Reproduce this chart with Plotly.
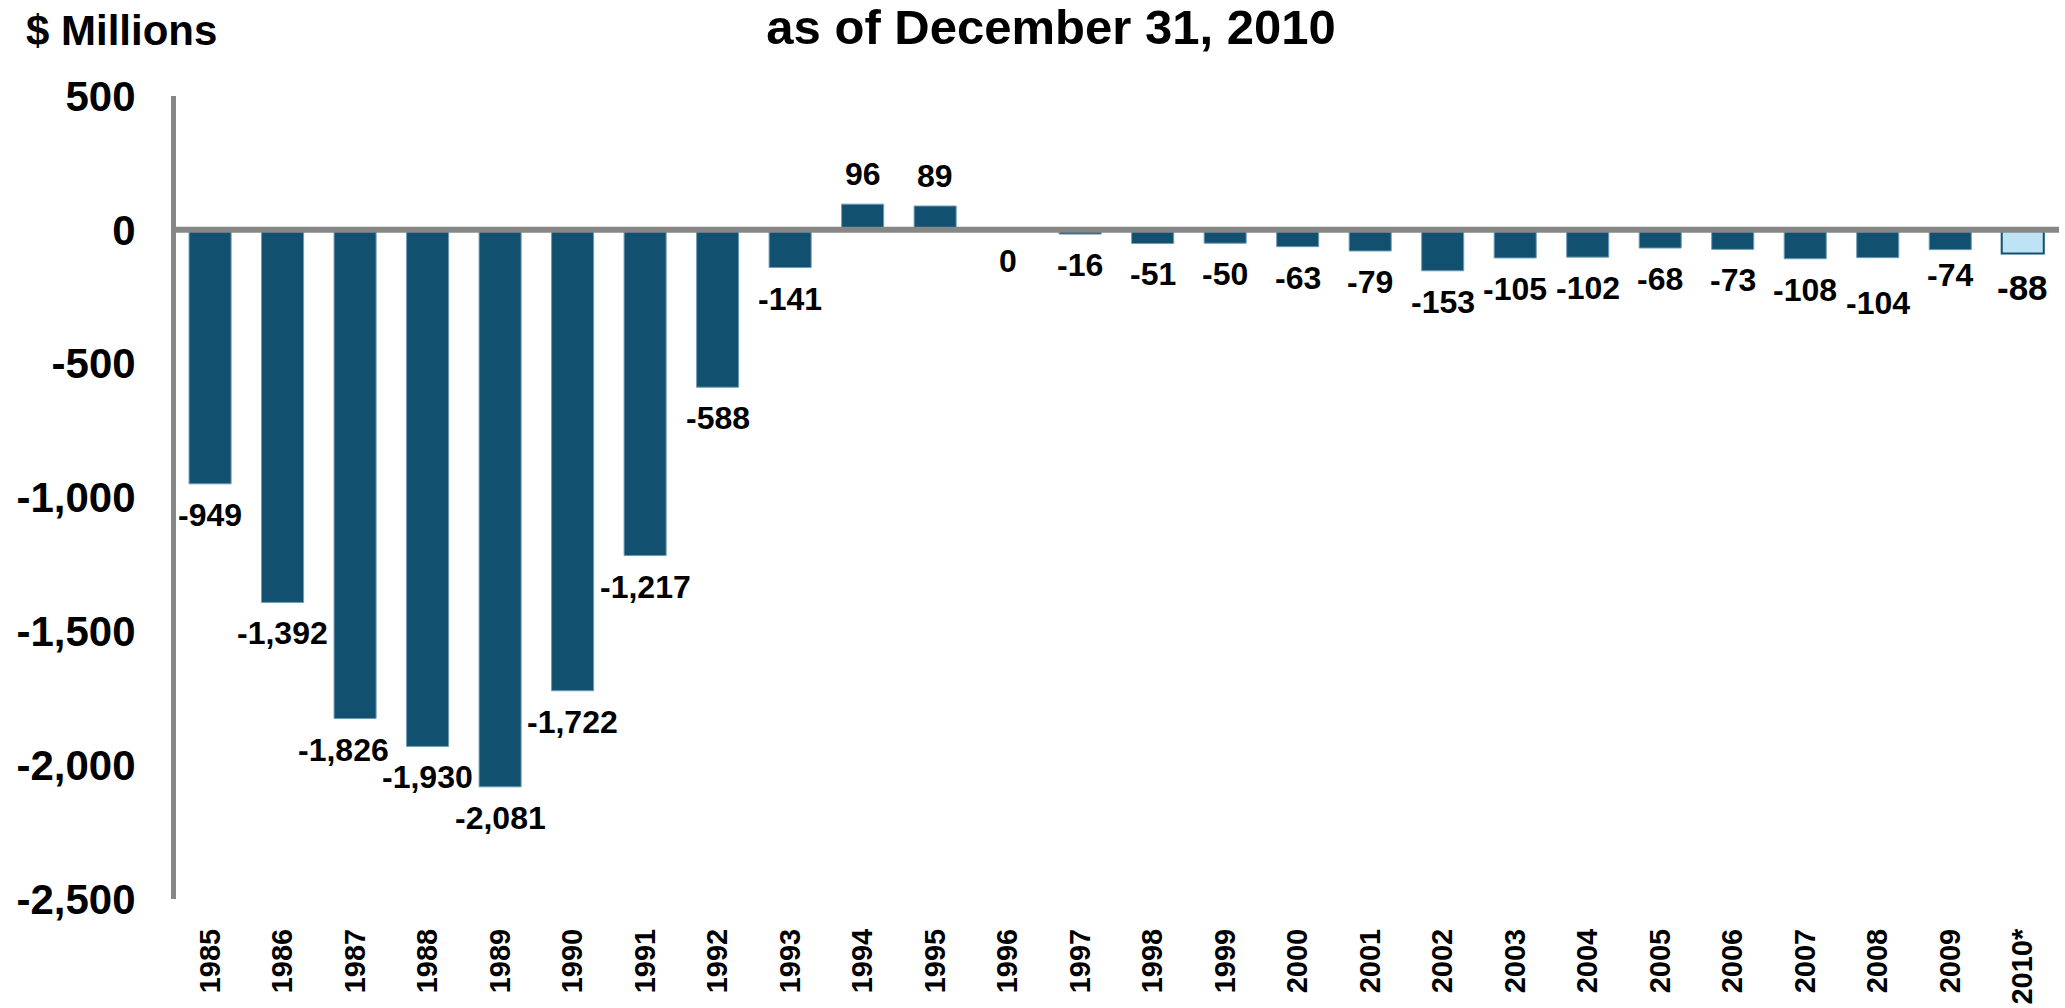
import plotly.graph_objects as go

# Annual values, $ millions
years = ["1985", "1986", "1987", "1988", "1989", "1990", "1991", "1992", "1993",
         "1994", "1995", "1996", "1997", "1998", "1999", "2000", "2001", "2002",
         "2003", "2004", "2005", "2006", "2007", "2008", "2009", "2010*"]
values = [-949, -1392, -1826, -1930, -2081, -1722, -1217, -588, -141,
          96, 89, 0, -16, -51, -50, -63, -79, -153,
          -105, -102, -68, -73, -108, -104, -74, -88]

y_tick_vals = [500, 0, -500, -1000, -1500, -2000, -2500]
y_tick_text = ["500", "0", "-500", "-1,000", "-1,500", "-2,000", "-2,500"]

title_text = "as of December 31, 2010"
unit_text = "$ Millions"

DARK = "#11506F"
LIGHT = "#BEE3F5"
GRAY = "#878787"
FONT = "Liberation Sans, Arial, sans-serif"

W, H = 2065, 1008
ML, MR, MT, MB = 176, 6, 96, 109

n = len(years)
bar_colors = [DARK] * (n - 1) + [LIGHT]
edge_colors = ["#6F9BB6"] * (n - 1) + [DARK]
edge_widths = [1] * (n - 1) + [2]

fig = go.Figure(
    go.Bar(
        x=years,
        y=values,
        width=0.58,
        marker=dict(color=bar_colors, line=dict(color=edge_colors, width=edge_widths)),
        hoverinfo="x+y",
    )
)

# label placement tweaks (pixel nudges) for a few crowded labels
nudge_x = {"1987": -12}
nudge_y = {"2008": -14, "2009": 6, "2010*": -3}

annotations = []
for i, (yr, v) in enumerate(zip(years, values)):
    size = 35 if yr == "2010*" else 32
    shift = 30 if v > 0 else -31
    annotations.append(dict(
        x=i, y=v, xref="x", yref="y",
        text=f"{v:,}",
        showarrow=False,
        xanchor="center", yanchor="middle",
        xshift=nudge_x.get(yr, 0),
        yshift=shift + nudge_y.get(yr, 0),
        font=dict(family=FONT, size=size, color="black", weight="bold"),
    ))

# unit caption in the top-left corner
plot_w = W - ML - MR
plot_h = H - MT - MB
annotations.append(dict(
    x=(24 - ML) / plot_w, xref="paper", xanchor="left",
    y=1 + (MT - 30) / plot_h, yref="paper", yanchor="middle",
    text=unit_text, showarrow=False,
    font=dict(family=FONT, size=42, color="black", weight="bold"),
))

fig.update_layout(
    width=W,
    height=H,
    autosize=False,
    paper_bgcolor="white",
    plot_bgcolor="white",
    margin=dict(l=ML, r=MR, t=MT, b=MB, autoexpand=False),
    showlegend=False,
    annotations=annotations,
    title=dict(
        text=title_text,
        x=1051 / W, xref="container", xanchor="center",
        y=1 - 27 / H, yref="container", yanchor="middle",
        font=dict(family=FONT, size=49, color="black", weight="bold"),
    ),
)

fig.update_xaxes(
    type="category",
    range=[-0.47, 25.5],
    automargin=False,
    showline=False,
    showgrid=False,
    zeroline=False,
    ticks="",
    tickangle=-90,
    ticklabelstandoff=23,
    tickfont=dict(family=FONT, size=29, color="black", weight="bold"),
)

fig.update_yaxes(
    range=[-2500, 500],
    automargin=False,
    tickvals=y_tick_vals,
    ticktext=y_tick_text,
    showline=True,
    linecolor=GRAY,
    linewidth=5,
    showgrid=False,
    zeroline=False,
    ticks="",
    ticklabelstandoff=27,
    tickfont=dict(family=FONT, size=42, color="black", weight="bold"),
)

# zero baseline drawn over the bars
fig.add_shape(
    type="line", xref="paper", yref="y",
    x0=0, x1=1, y0=0, y1=0,
    line=dict(color=GRAY, width=6),
    layer="above",
)

fig.write_html("out.html")
